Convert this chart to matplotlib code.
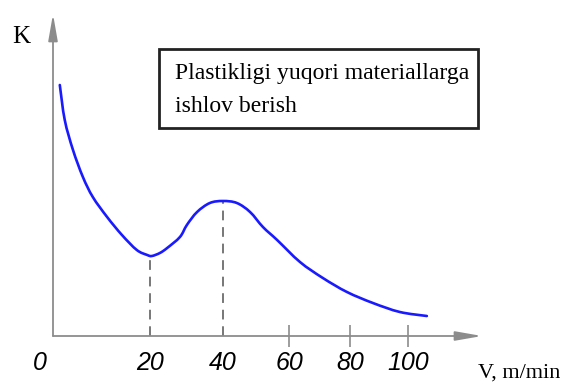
import numpy as np
import matplotlib
matplotlib.use("Agg")
import matplotlib.pyplot as plt
from matplotlib.patches import Rectangle, PathPatch
from matplotlib.path import Path
from matplotlib.transforms import IdentityTransform

# ---- data ----
V = [3.6, 4.5, 6.0, 7.8, 9.6, 12.2, 14.9, 17.6, 19.5, 20.5, 22.7, 24.7, 28.2, 30.1,
     32.9, 36.4, 40.0, 44.2, 48.2, 52.1, 56.4, 63.6, 71.1, 79.0, 87.9, 97.2, 106.5]
K = [2.51, 2.16, 1.86, 1.59, 1.39, 1.19, 1.01, 0.86, 0.81, 0.80, 0.83, 0.88, 0.99, 1.11,
     1.24, 1.33, 1.35, 1.33, 1.24, 1.09, 0.96, 0.74, 0.58, 0.44, 0.33, 0.24, 0.20]
marked_V = [20, 40]
marked_K = [0.80, 1.35]
tick_V = [60, 80, 100]
label_V = [0, 20, 40, 60, 80, 100]
label_txt = ["0", "20", "40", "60", "80", "100"]
box_lines = ["Plastikligi yuqori materiallarga", "ishlov berish"]

# ---- non-uniform V axis scale of the sketch ----
_kv = np.array([-100, 0, 20, 40, 60, 80, 100, 300], float)
_kp = np.array([-510, 40, 150, 223, 289, 350, 408, 988], float)
def fwd(v):
    return np.interp(v, _kv, _kp)
def inv(p):
    return np.interp(p, _kp, _kv)

W, H = 572, 383
fig = plt.figure(figsize=(W / 100, H / 100), dpi=100)
x0, x1, yb, yt = 53, 482, 336, 14
ax = fig.add_axes([x0 / W, 1 - yb / H, (x1 - x0) / W, (yb - yt) / H])
ax.set_xscale("function", functions=(fwd, inv))
ax.set_xlim(inv(x0), inv(x1))
ax.set_ylim(0, (yb - yt) / 100)
for s in ax.spines.values():
    s.set_visible(False)
ax.patch.set_alpha(0)

gray = "#8c8c8c"

# smooth curve through the read points (Catmull-Rom -> cubic Bezier, display space)
P = ax.transData.transform(np.column_stack([V, K]))
verts = [P[0]]
codes = [Path.MOVETO]
n = len(P)
for i in range(n - 1):
    p0 = P[max(i - 1, 0)]
    p1 = P[i]
    p2 = P[i + 1]
    p3 = P[min(i + 2, n - 1)]
    c1 = p1 + (p2 - p0) / 6.0
    c2 = p2 - (p3 - p1) / 6.0
    verts += [c1, c2, p2]
    codes += [Path.CURVE4] * 3
curve = PathPatch(Path(verts, codes), transform=IdentityTransform(), fill=False,
                  ec="#1a1aff", lw=1.9, capstyle="round", joinstyle="round")
fig.add_artist(curve)

ax.vlines(marked_V, 0, marked_K, colors="#777777", linestyles=(0, (5, 3.5)), lw=1.4)

ax.set_xticks(tick_V)
ax.tick_params(axis="x", direction="inout", length=16, width=1.2, color=gray,
               labelbottom=False)
ax.set_yticks([])

arrow = dict(arrowstyle="-|>,head_length=0.8,head_width=0.14", color=gray, lw=1.3,
             mutation_scale=20, shrinkA=0, shrinkB=0)
ax.annotate("", xy=(1, 0), xytext=(0, 0), xycoords="axes fraction", arrowprops=arrow,
            annotation_clip=False)
ax.annotate("", xy=(0, 1), xytext=(0, 0), xycoords="axes fraction", arrowprops=arrow,
            annotation_clip=False)

trans = ax.get_xaxis_transform()
for v, t in zip(label_V, label_txt):
    ax.text(v, -27 / (yb - yt), t, transform=trans, ha="center", va="center",
            fontsize=18, style="italic",
            family=["Liberation Sans Narrow", "Liberation Sans", "DejaVu Sans"],
            clip_on=False)

serif = ["Liberation Serif", "DejaVu Serif"]
fig.text(21 / W, 1 - 37 / H, "K", ha="center", va="center", fontsize=18, family=serif)
fig.text(478 / W, 1 - 373 / H, "V, m/min", ha="left", va="center", fontsize=16,
         family=serif)

fig.patches.append(Rectangle((159 / W, 1 - 128 / H), (478 - 159) / W, (128 - 49) / H,
                             transform=fig.transFigure, fill=False, ec="#222222", lw=2.0))
fig.text(175 / W, 1 - 73 / H, box_lines[0], ha="left", va="center", fontsize=17,
         family=serif)
fig.text(175 / W, 1 - 107 / H, box_lines[1], ha="left", va="center", fontsize=17,
         family=serif)

fig.savefig("out.png", dpi=100)
